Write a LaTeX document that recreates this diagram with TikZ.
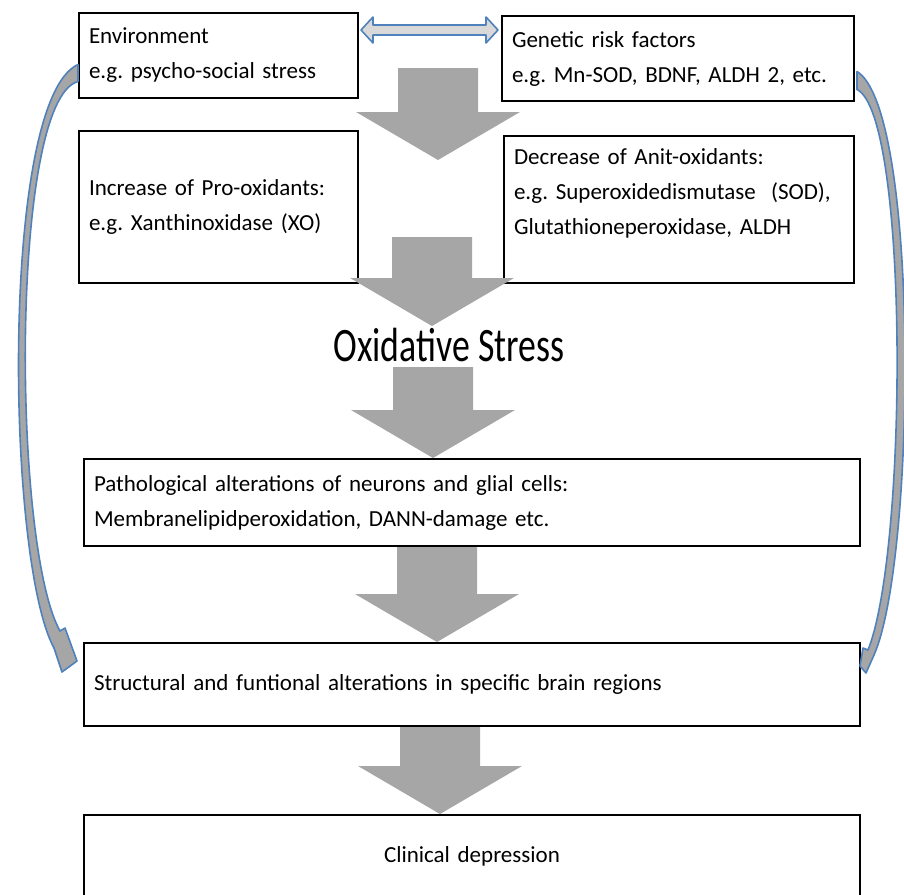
\documentclass[tikz,border=0pt]{standalone}
\usepackage{fontspec}
\setmainfont{Carlito}
\usepackage{tikz}
\usetikzlibrary{calc,positioning}

\definecolor{arrowgray}{HTML}{A6A6A6}
\definecolor{pale}{HTML}{D9D9D9}
\definecolor{officeblue}{HTML}{4F81BD}

% gray block arrow from #1 (top of shaft) down to #2 (tip)
\newcommand{\downblock}[2]{%
  \fill[arrowgray] ($(#1)+(-40,0)$) -- ($(#1)+(40,0)$) -- ($(#2)+(40,-48)$) -- ($(#2)+(82,-48)$)
    -- (#2) -- ($(#2)+(-82,-48)$) -- ($(#2)+(-40,-48)$) -- cycle;}

\begin{document}
\begin{tikzpicture}[
    x=0.5pt, y=-0.5pt,
    font=\fontsize{11.5}{17.5}\selectfont,
    box/.style={rectangle, draw, line width=1pt, inner xsep=5pt, inner ysep=0pt, align=left, anchor=north west},
    sidearrow/.style={fill=arrowgray, draw=officeblue, line width=0.8pt, line join=round},
    twoway/.style={fill=pale, draw=officeblue, line width=0.8pt, line join=round}
]
    \useasboundingbox (0,0) rectangle (904,894);

    \node[box, text width=129.5pt, minimum height=42.5pt] (env) at (78,12) {Environment\\ e.g.\ psycho-social stress};
    \node[box, text width=166pt, minimum height=42.5pt] (gen) at (501,15) {Genetic risk factors\\ e.g.\ Mn-SOD, BDNF, ALDH 2, etc.};
    \node[box, text width=129.5pt, minimum height=76pt] (inc) at (78,130) {Increase of Pro-oxidants:\\ e.g.\ Xanthinoxidase (XO)};
    \node[box, text width=165pt, minimum height=73.5pt] (dec) at (503,135) {Decrease of Anit-oxidants:\\ e.g.\ Superoxidedismutase\ \ (SOD),\\ Glutathioneperoxidase, ALDH\\ \mbox{}};
    \node (ox) at (449,345) {\scalebox{0.745}[1]{\fontsize{24}{28}\selectfont Oxidative Stress}};
    \node[box, text width=378pt, minimum height=43.5pt] (path) at (83,458) {Pathological alterations of neurons and glial cells:\\ Membranelipidperoxidation, DANN-damage etc.};
    \node[box, text width=378pt, minimum height=41.5pt] (struc) at (83,642) {Structural and funtional alterations in specific brain regions};
    \node[box, text width=378pt, minimum height=41.5pt, align=center] (clin) at (83,814) {Clinical depression};

    \coordinate (a1s) at (438,68);
    \coordinate (a1t) at (438,160);
    \coordinate (a2s) at (432,237);
    \coordinate (a2t) at (432,326);
    \coordinate (a3s) at (433,367);
    \coordinate (a3t) at ($(path.north west)+(350,0)$);
    \coordinate (a4s) at ($(path.south west)+(354,0)$);
    \coordinate (a4t) at ($(struc.north west)+(354,0)$);
    \coordinate (a5s) at ($(struc.south west)+(357,0)$);
    \coordinate (a5t) at ($(clin.north west)+(357,0)$);

    \downblock{a1s}{a1t}
    \downblock{a2s}{a2t}
    \downblock{a3s}{a3t}
    \downblock{a4s}{a4t}
    \downblock{a5s}{a5t}

    % environment <-> genetic
    \coordinate (dl) at ($(env.north east)+(2,18)$);
    \coordinate (dr) at ($(gen.north west)+(-3,15)$);
    \draw[twoway] (dl) -- ($(dl)+(12,-13)$) -- ($(dl)+(12,-5)$) -- ($(dr)+(-12,-5)$) -- ($(dr)+(-12,-13)$)
        -- (dr) -- ($(dr)+(-12,13)$) -- ($(dr)+(-12,5)$) -- ($(dl)+(12,5)$) -- ($(dl)+(12,13)$) -- cycle;

    % curved arrows down the sides
    \draw[sidearrow] ($(env.west)+(0,9)$) .. controls (0,100) and (6,560) .. (54,648) -- (62,672)
        -- ($(struc.north west)+(-6,19)$) -- (65,628) -- (60,631)
        .. controls (12,545) and (10,100) .. ($(env.west)+(0,26)$) -- cycle;
    \draw[sidearrow] ($(gen.east)+(2,13)$) .. controls (920,110) and (916,560) .. (874,655) -- (866,673)
        -- ($(struc.north east)+(-1,24)$) -- (863,648) -- (868,650)
        .. controls (908,550) and (909,115) .. ($(gen.east)+(2,31)$) -- cycle;
\end{tikzpicture}
\end{document}
